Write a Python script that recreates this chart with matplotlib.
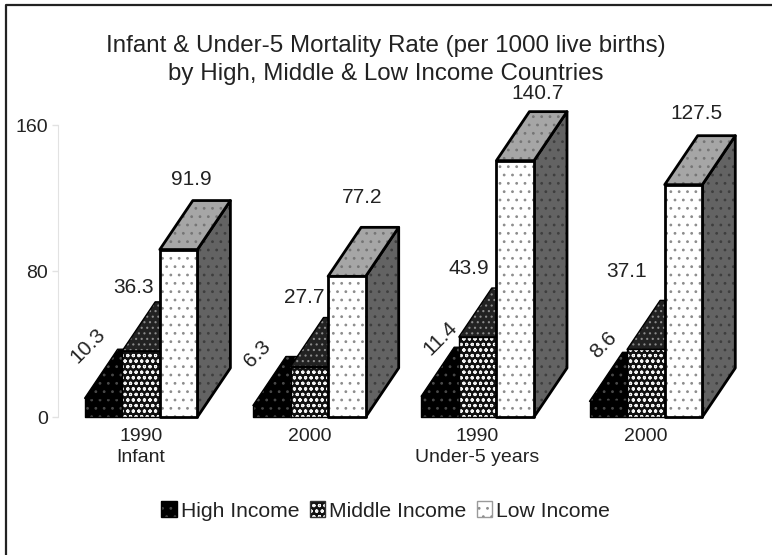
import matplotlib
matplotlib.use('Agg')
import matplotlib.pyplot as plt
from matplotlib.legend_handler import HandlerTuple
from matplotlib.lines import Line2D
from matplotlib.patches import Patch, Polygon

# Mortality rates per 1000 live births
group_labels = ['1990\nInfant', '2000', '1990\nUnder-5 years', '2000']
high_income = [10.3, 6.3, 11.4, 8.6]
middle_income = [36.3, 27.7, 43.9, 37.1]
low_income = [91.9, 77.2, 140.7, 127.5]
series_names = ['High Income', 'Middle Income', 'Low Income']
y_ticks = [0, 80, 160]

W, H = 772, 555
X0_PX, X_UNIT = 141, 168.3      # pixel of first group centre, pixels per group
Y0_PX, Y_UNIT = 417, 1.822      # pixel of value 0, pixels per value unit
BAR_W = 37.6 / X_UNIT
DX = 33 / X_UNIT                # depth of the fake 3D boxes
DY = 49 / Y_UNIT

plt.rcParams['font.family'] = ['Liberation Sans', 'DejaVu Sans']
plt.rcParams['hatch.linewidth'] = 0.8

fig = plt.figure(figsize=(W / 100, H / 100), dpi=100)
ax = fig.add_axes([0, 0, 1, 1])
ax.set_xlim(-X0_PX / X_UNIT, (W - X0_PX) / X_UNIT)
ax.set_ylim(-(H - Y0_PX) / Y_UNIT, Y0_PX / Y_UNIT)
ax.patch.set_alpha(0)

# outer frame only has top and left rules
fig.add_artist(Line2D([6 / W, 6 / W, 1], [0, 1 - 5 / H, 1 - 5 / H], color='#222222', lw=1.6))

# (face colour, dot colour, hatch) for front, top, side of each series
styles = [
    [('#000000', '#4a4a4a', '..'), ('#000000', '#4a4a4a', '..'), ('#000000', '#4a4a4a', '..')],
    [('#111111', '#f4f4f4', 'ooo'), ('#222222', '#8a8a8a', '...'), ('#222222', '#8a8a8a', '...')],
    [('#ffffff', '#8c8c8c', '..'), ('#a6a6a6', '#757575', '..'), ('#636363', '#3e3e3e', '..')],
]
edge_widths = [1.0, 1.0, 2.0]
legend_edges = ['#000000', '#333333', '#9a9a9a']


def face(points, style, lw):
    fc, dots, hatch = style
    ax.add_patch(Polygon(points, closed=True, facecolor=fc, edgecolor=dots, hatch=hatch, lw=0))
    ax.add_patch(Polygon(points, closed=True, fill=False, edgecolor='#000000', lw=lw, joinstyle='round'))


def box(left, value, series):
    right = left + BAR_W
    st = styles[series]
    lw = edge_widths[series]
    face([(right, 0), (right + DX, DY), (right + DX, value + DY), (right, value)], st[2], lw)
    face([(left, value), (right, value), (right + DX, value + DY), (left + DX, value + DY)], st[1], lw)
    face([(left, 0), (right, 0), (right, value), (left, value)], st[0], lw)


values = [high_income, middle_income, low_income]
for g in range(len(group_labels)):
    for s in range(3):
        left = g + (s - 1.5) * BAR_W
        box(left, values[s][g], s)

# value labels, offset in pixels from the front top centre of each box
label_offsets = [
    [(-16, 53), (-14, 52), (0, 58), (-5, 56)],
    [(-7, 63), (-5, 69), (-9, 69), (-19, 78)],
    [(13, 70), (15, 79), (22, 67), (13, 71)],
]
for s in range(3):
    for g in range(len(group_labels)):
        x = g + (s - 1) * BAR_W
        rot = 45 if s == 0 else 0
        ax.annotate(f'{values[s][g]}', (x, values[s][g]), xytext=label_offsets[s][g],
                    textcoords='offset pixels', ha='center', va='center',
                    rotation=rot, fontsize=15, color='#222222')

# axes
for side in ['top', 'right', 'bottom']:
    ax.spines[side].set_visible(False)
ax.spines['left'].set_position(('data', (58 - X0_PX) / X_UNIT))
ax.spines['left'].set_bounds(0, 160)
ax.spines['left'].set_color('#e2e2e2')
ax.spines['bottom'].set_position(('data', 0))
ax.set_yticks(y_ticks)
ax.set_xticks(range(len(group_labels)))
ax.set_xticklabels(group_labels, linespacing=1.3)
ax.tick_params(axis='y', length=4, width=1, color='#e2e2e2', labelsize=14, labelcolor='#222222', pad=3)
ax.tick_params(axis='x', length=0, labelsize=14, labelcolor='#222222', pad=8)

fig.text(386 / W, 1 - 60 / H, 'Infant & Under-5 Mortality Rate (per 1000 live births)\nby High, Middle & Low Income Countries',
         ha='center', va='center', fontsize=17.4, color='#222222', linespacing=1.38)

handles = []
for i in range(3):
    fill = Patch(facecolor=styles[i][0][0], edgecolor=styles[i][0][1], hatch=styles[i][0][2], lw=0)
    outline = Patch(fill=False, edgecolor=legend_edges[i], lw=1)
    handles.append((fill, outline))
ax.legend(handles, series_names, ncol=3, frameon=False, loc='center',
          bbox_to_anchor=(385.5 / W, 1 - 511 / H), fontsize=15.2, labelcolor='#222222',
          handler_map={tuple: HandlerTuple(ndivide=1, pad=0)},
          handlelength=0.72, handleheight=0.8, handletextpad=0.19, columnspacing=0.5, borderpad=0)

fig.savefig('out.png', dpi=100)
